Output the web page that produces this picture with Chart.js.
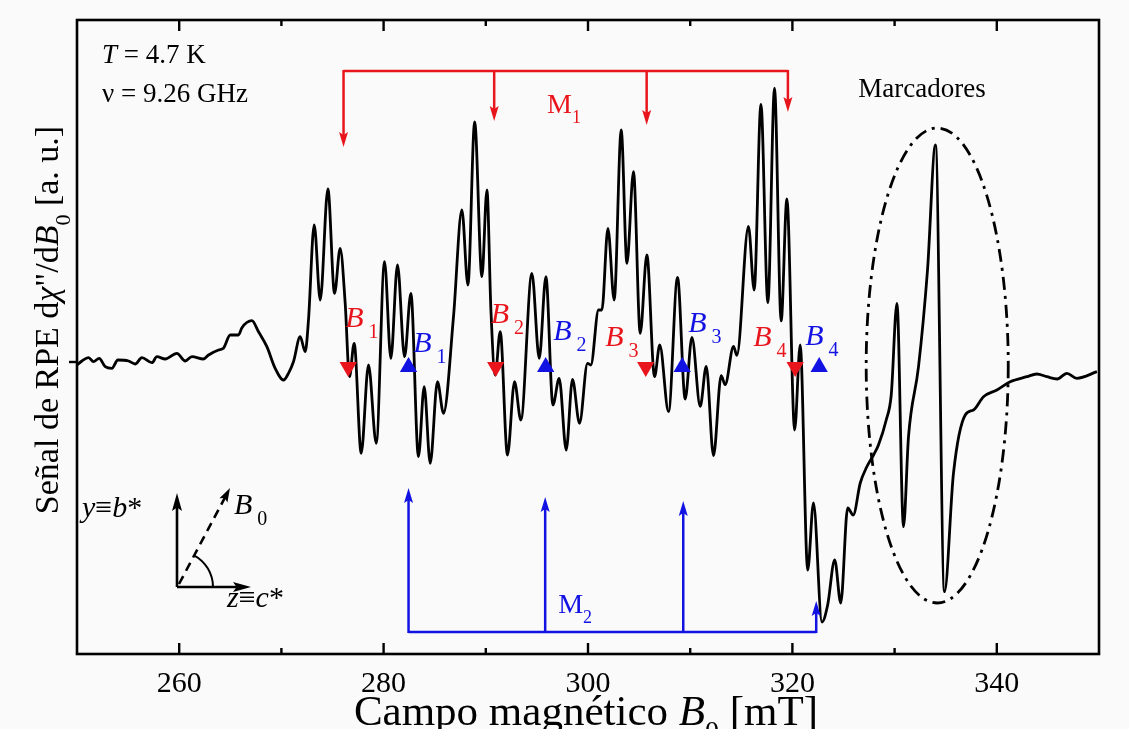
<!DOCTYPE html>
<html>
<head>
<meta charset="utf-8">
<script src="https://cdn.jsdelivr.net/npm/chart.js@4.4.1/dist/chart.umd.min.js"></script>
<style>
  html, body { margin: 0; padding: 0; background: #fafafa; }
</style>
</head>
<body>
<canvas id="epr" width="1129" height="729"></canvas>
<script>
// EPR spectrum, field in mT, signal in arbitrary units
const field = [
  250.00, 250.48, 251.13, 251.61, 252.17, 252.76, 253.41, 254.00, 255.04, 255.69,
  256.35, 257.33, 257.82, 258.63, 259.77, 260.59, 261.24, 262.38, 262.87, 263.85,
  264.33, 264.99, 265.80, 266.14, 267.11, 267.76, 268.58, 269.39, 270.21, 270.69,
  271.18, 271.84, 272.33, 272.65, 273.21, 273.80, 274.55, 275.20, 275.75, 276.24,
  276.66, 277.12, 277.81, 278.52, 279.28, 280.09, 280.71, 281.36, 282.05, 282.67,
  283.41, 283.97, 284.56, 285.27, 285.86, 286.84, 287.66, 288.25, 288.91, 289.62,
  290.11, 290.50, 290.92, 291.41, 292.12, 292.81, 293.43, 294.51, 295.23, 295.88,
  296.57, 297.18, 297.87, 298.48, 299.17, 299.95, 300.28, 301.03, 301.36, 301.95,
  302.56, 303.25, 303.81, 304.45, 305.11, 305.76, 306.51, 307.02, 307.88, 308.76,
  309.51, 310.17, 310.98, 311.57, 312.28, 313.03, 313.42, 314.24, 314.57, 315.70,
  316.26, 316.92, 317.60, 318.25, 318.90, 319.46, 320.22, 320.76, 321.50, 322.06,
  322.89, 323.45, 324.14, 324.73, 325.41, 325.95, 326.64, 327.27, 327.94, 328.42,
  329.18, 329.67, 330.23, 330.87, 331.36, 332.34, 333.22, 334.00, 334.88, 335.76,
  336.91, 337.72, 338.70, 340.01, 341.31, 342.95, 343.90, 344.90, 345.90, 346.86,
  347.84, 349.80
];
const signal = [
  -0.30, 0.10, 0.43, 0.03, 0.37, -0.47, -0.63, 0.20, 0.10, -0.20,
  0.43, -0.07, 0.53, 0.30, 0.87, 0.10, 0.53, 0.30, 0.70, 1.20,
  1.37, 2.70, 2.70, 3.43, 4.13, 3.03, 1.53, -0.63, -1.80, -1.13,
  0.03, 2.53, 1.03, 4.20, 13.70, 6.20, 17.30, 6.87, 11.37, 5.90,
  -1.47, 1.87, -9.13, -0.30, -8.13, 10.03, 0.37, 9.70, 0.53, 6.87,
  -9.47, -2.47, -10.13, -1.97, -5.13, 4.53, 15.20, 7.70, 24.00, 8.53,
  17.20, 5.20, -1.30, 3.03, -9.30, -1.97, -5.80, 8.87, 0.37, 8.53,
  -4.30, -1.63, -8.80, -1.73, -6.13, -0.13, -0.30, 5.20, 5.20, 13.37,
  6.20, 23.20, 9.87, 19.03, 2.87, 10.70, -1.47, 1.70, -4.97, 8.47,
  -3.70, 2.47, -4.43, -0.43, -9.37, -1.37, -2.27, 1.57, 0.67, 13.57,
  7.20, 25.77, 5.93, 27.38, 4.11, 16.30, -6.80, 1.70, -20.80, -14.10,
  -26.00, -24.30, -19.80, -24.10, -14.60, -15.30, -12.10, -10.50, -9.30, -8.30,
  -5.80, -3.30, 5.87, -16.47, -7.47, -0.47, 9.20, 21.70, -22.97, -11.13,
  -5.30, -4.80, -3.47, -2.80, -1.97, -1.47, -1.20, -1.47, -1.70, -1.13,
  -1.63, -0.97
];

// resonance fields of the two magnetically inequivalent sites
const redMarkers = [276.54, 290.97, 305.65, 320.27];
const blueMarkers = [282.44, 295.86, 309.22, 322.62];
const markerLevel = -0.5;

// M1 (red) and M2 (blue) hyperfine combs
const m1Fields = [276.08, 290.82, 305.74, 319.56];
const m1Tips = [21.5, 24.1, 23.7, 25.0];
const m1Bar = 29.1;
const m2Fields = [282.44, 295.81, 309.32, 322.33];
const m2Tips = [-12.6, -13.5, -13.9, -23.9];
const m2Bar = -27.0;

const xTicks = [260, 280, 300, 320, 340];

const RED = '#e8161c';
const BLUE = '#1212e2';
const SERIF = '"Liberation Serif", "Times New Roman", serif';

// font helper for rich text parts: ['text', style]  style: '', 'i', 'sub', 'isub'
function partFont(p, size) {
  const s = p[1].includes('sub') ? Math.round(size * 0.65) : size;
  const it = p[1].startsWith('i') ? 'italic ' : '';
  return `${it}${s}px ${SERIF}`;
}

function drawRich(ctx, parts, x, y, size, align) {
  const widths = parts.map(p => { ctx.font = partFont(p, size); return ctx.measureText(p[0]).width; });
  const total = widths.reduce((a, b) => a + b, 0);
  let cx = align === 'center' ? x - total / 2 : x;
  ctx.textBaseline = 'alphabetic';
  ctx.textAlign = 'left';
  parts.forEach((p, i) => {
    ctx.font = partFont(p, size);
    const dy = p[1].includes('sub') ? size * 0.36 : 0;
    ctx.fillText(p[0], cx, y + dy);
    cx += widths[i];
  });
}

function arrow(ctx, x1, y1, x2, y2, color, lw, headLen, headW) {
  const ang = Math.atan2(y2 - y1, x2 - x1);
  ctx.strokeStyle = color;
  ctx.fillStyle = color;
  ctx.lineWidth = lw;
  ctx.beginPath();
  ctx.moveTo(x1, y1);
  ctx.lineTo(x2 - Math.cos(ang) * headLen * 0.6, y2 - Math.sin(ang) * headLen * 0.6);
  ctx.stroke();
  ctx.save();
  ctx.setLineDash([]);
  ctx.translate(x2, y2);
  ctx.rotate(ang);
  ctx.beginPath();
  ctx.moveTo(0, 0);
  ctx.lineTo(-headLen, -headW / 2);
  ctx.lineTo(-headLen * 0.8, 0);
  ctx.lineTo(-headLen, headW / 2);
  ctx.closePath();
  ctx.fill();
  ctx.restore();
}

const annotations = {
  id: 'annotations',
  beforeDraw(chart) {
    const ctx = chart.ctx;
    ctx.save();
    ctx.fillStyle = '#fafafa';
    ctx.fillRect(0, 0, chart.width, chart.height);
    ctx.restore();
  },
  afterDatasetsDraw(chart) {
    const ctx = chart.ctx;
    const xs = chart.scales.x, ys = chart.scales.y;
    const X = v => xs.getPixelForValue(v);
    const Y = v => ys.getPixelForValue(v);
    const ca = chart.chartArea;
    ctx.save();
    ctx.lineCap = 'butt';

    // M1 comb (red, arrows down)
    ctx.strokeStyle = RED;
    ctx.lineWidth = 2.5;
    ctx.beginPath();
    ctx.moveTo(X(m1Fields[0]), Y(m1Bar));
    ctx.lineTo(X(m1Fields[m1Fields.length - 1]), Y(m1Bar));
    ctx.stroke();
    m1Fields.forEach((f, i) => arrow(ctx, X(f), Y(m1Bar) - 1, X(f), Y(m1Tips[i]), RED, 2.5, 15, 9));
    ctx.fillStyle = RED;
    drawRich(ctx, [['M', ''], ['1', 'sub']], X(296.0), Y(24.9), 28);

    // M2 comb (blue, arrows up)
    ctx.strokeStyle = BLUE;
    ctx.lineWidth = 2.5;
    ctx.beginPath();
    ctx.moveTo(X(m2Fields[0]), Y(m2Bar));
    ctx.lineTo(X(m2Fields[m2Fields.length - 1]), Y(m2Bar));
    ctx.stroke();
    m2Fields.forEach((f, i) => arrow(ctx, X(f), Y(m2Bar) + 1, X(f), Y(m2Tips[i]), BLUE, 2.5, 15, 9));
    ctx.fillStyle = BLUE;
    drawRich(ctx, [['M', ''], ['2', 'sub']], X(297.08), Y(-25.1), 28);

    // B_n labels
    const redLabels = [[276.24, 3.5], [290.48, 3.9], [301.68, 1.6], [316.16, 1.6]];
    const blueLabels = [[282.9, 1.0], [296.6, 2.2], [309.8, 3.0], [321.25, 1.7]];
    ctx.fillStyle = RED;
    redLabels.forEach((p, i) => drawRich(ctx, [['B', 'i'], [' ' + (i + 1), 'sub']], X(p[0]), Y(p[1]), 30));
    ctx.fillStyle = BLUE;
    blueLabels.forEach((p, i) => drawRich(ctx, [['B', 'i'], [' ' + (i + 1), 'sub']], X(p[0]), Y(p[1]), 30));

    // marker ellipse
    ctx.strokeStyle = '#000';
    ctx.lineWidth = 2.8;
    ctx.setLineDash([13, 6, 3, 6]);
    ctx.beginPath();
    const ex = X(334.17), ey = (Y(-24.1) + Y(23.4)) / 2;
    const rx = X(334.17) - X(327.22), ry = (Y(-24.1) - Y(23.4)) / 2;
    ctx.ellipse(ex, ey, rx, ry, 0, 0, Math.PI * 2);
    ctx.stroke();
    ctx.setLineDash([]);

    ctx.fillStyle = '#000';
    drawRich(ctx, [['Marcadores', '']], X(326.44), Y(26.5), 27);

    // experimental conditions
    drawRich(ctx, [['T', 'i'], [' = 4.7 K', '']], ca.left + 25, ca.top + 43, 27);
    drawRich(ctx, [['\u03BD = 9.26 GHz', '']], ca.left + 25, ca.top + 82, 27);

    // crystal axes inset
    const ox = ca.left + 100, oy = ca.bottom - 67;
    arrow(ctx, ox, oy, ox, oy - 94, '#000', 2.6, 18, 10);
    arrow(ctx, ox, oy, ox + 74, oy, '#000', 2.6, 18, 10);
    ctx.setLineDash([9, 6]);
    arrow(ctx, ox + 2, oy - 3, ox + 53, oy - 99, '#000', 2.6, 14, 9);
    ctx.setLineDash([]);
    ctx.lineWidth = 2;
    ctx.beginPath();
    ctx.arc(ox, oy, 36, -Math.atan2(99, 53), 0);
    ctx.stroke();
    drawRich(ctx, [['y', 'i'], ['\u2261', ''], ['b', 'i'], ['*', '']], ca.left + 5, oy - 70, 30);
    drawRich(ctx, [['B', 'i'], [' 0', 'sub']], ox + 57, oy - 73, 30);
    drawRich(ctx, [['z', 'i'], ['\u2261', ''], ['c', 'i'], ['*', '']], ox + 50, oy + 20, 30);

    ctx.restore();
  },
  afterDraw(chart) {
    const ctx = chart.ctx;
    const xs = chart.scales.x, ys = chart.scales.y;
    const ca = chart.chartArea;
    ctx.save();
    // frame
    ctx.strokeStyle = '#000';
    ctx.lineWidth = 2.6;
    ctx.strokeRect(ca.left, ca.top, ca.right - ca.left, ca.bottom - ca.top);
    // inward ticks on top and bottom
    ctx.lineWidth = 2.4;
    xs.ticks.forEach(t => {
      if (t.value <= xs.min || t.value >= xs.max) return;
      const x = xs.getPixelForValue(t.value);
      const len = xTicks.includes(t.value) ? 11 : 6;
      ctx.beginPath();
      ctx.moveTo(x, ca.bottom);
      ctx.lineTo(x, ca.bottom - len);
      ctx.moveTo(x, ca.top);
      ctx.lineTo(x, ca.top + len);
      ctx.stroke();
    });
    // zero mark on the signal axis
    const y0 = ys.getPixelForValue(0);
    ctx.beginPath();
    ctx.moveTo(ca.left - 8, y0);
    ctx.lineTo(ca.left, y0);
    ctx.stroke();

    // axis titles
    ctx.fillStyle = '#000';
    drawRich(ctx, [['Campo magn\u00E9tico ', ''], ['B', 'i'], ['0', 'sub'], [' [mT]', '']],
      586, 725, 43, 'center');
    ctx.translate(58, 320);
    ctx.rotate(-Math.PI / 2);
    drawRich(ctx, [['Se\u00F1al de RPE d', ''], ['\u03C7', 'i'], ['"/d', ''], ['B', 'i'], ['0', 'sub'], [' [a. u.]', '']],
      0, 0, 34, 'center');
    ctx.restore();
  }
};

const ctx = document.getElementById('epr').getContext('2d');
const chart = new Chart(ctx, {
  type: 'line',
  data: {
    datasets: [
      {
        label: 'EPR',
        data: field.map((b, i) => ({ x: b, y: signal[i] })),
        borderColor: '#000',
        borderWidth: 2.8,
        pointRadius: 0,
        cubicInterpolationMode: 'monotone',
        order: 3
      },
      {
        type: 'scatter',
        label: 'B (M1)',
        data: redMarkers.map(b => ({ x: b, y: markerLevel })),
        pointStyle: 'triangle',
        rotation: 180,
        pointRadius: 10,
        backgroundColor: RED,
        borderColor: RED,
        borderWidth: 0,
        order: 1
      },
      {
        type: 'scatter',
        label: 'B (M2)',
        data: blueMarkers.map(b => ({ x: b, y: markerLevel })),
        pointStyle: 'triangle',
        pointRadius: 10,
        backgroundColor: BLUE,
        borderColor: BLUE,
        borderWidth: 0,
        order: 2
      }
    ]
  },
  options: {
    responsive: false,
    animation: false,
    layout: { padding: { left: 77, right: 30, top: 20, bottom: 0 } },
    plugins: { legend: { display: false }, tooltip: { enabled: false } },
    scales: {
      x: {
        type: 'linear',
        min: 250,
        max: 350,
        grid: { display: false, drawTicks: false },
        border: { display: false },
        ticks: {
          stepSize: 10,
          autoSkip: false,
          maxRotation: 0,
          padding: 12,
          color: '#000',
          font: { family: SERIF, size: 30 },
          callback: v => (xTicks.includes(v) ? String(v) : '')
        },
        afterFit: s => { s.height = 75; }
      },
      y: {
        min: -29.2,
        max: 34.2,
        display: false
      }
    }
  },
  plugins: [annotations]
});
</script>
</body>
</html>
